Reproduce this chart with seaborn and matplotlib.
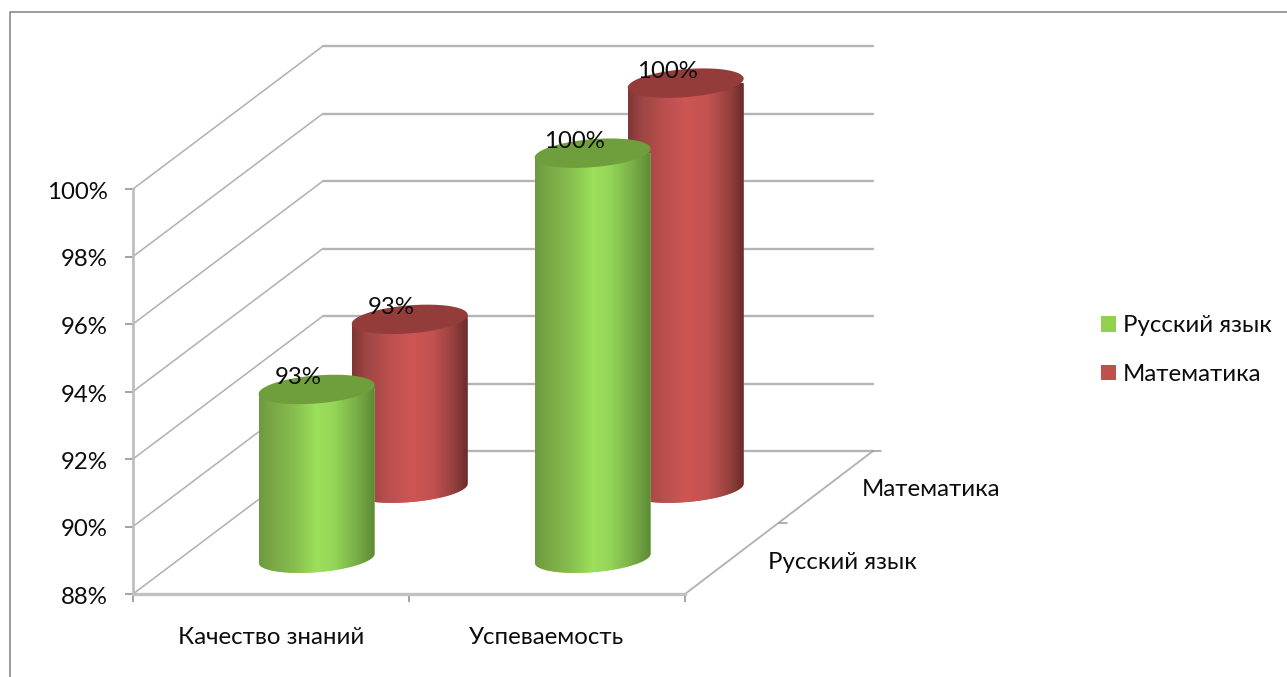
import numpy as np
import matplotlib
matplotlib.use("Agg")
import matplotlib.pyplot as plt
from matplotlib.colors import LinearSegmentedColormap
from matplotlib.lines import Line2D
from matplotlib.patches import Patch, Polygon
from matplotlib.transforms import ScaledTranslation
import seaborn as sns

# Data
categories = ["Качество знаний", "Успеваемость"]
series_names = ["Русский язык", "Математика"]
russian = [93, 100]
maths = [93, 100]
y_ticks = [88, 90, 92, 94, 96, 98, 100]

sns.set_theme(style="white")
plt.rcParams["font.family"] = ["Lato", "Open Sans", "DejaVu Sans"]

W, H = 1287, 677
FONT = 17.3
TEXT = "#0c0c0c"
GRID = "#b4b4b4"

fig = plt.figure(figsize=(W / 100, H / 100), dpi=100, facecolor="white")


def px_axes(x0, y_bottom, width, height):
    return fig.add_axes([x0 / W, 1 - y_bottom / H, width / W, height / H])


# ---------------------------
# Front plane: real axes with the value scale
# ---------------------------
FX, FY, FW, FH = 133, 594, 552, 405
UNIT_Y = FH / 12
ax = px_axes(FX, FY, FW, FH)
ax.set_facecolor("none")
ax.set_xlim(-0.5, 1.5)
ax.set_ylim(88, 100)
sns.despine(ax=ax, top=True, right=True)
ax.spines["left"].set_color("#bcbcbc")
ax.spines["left"].set_linewidth(1.9)
ax.spines["bottom"].set_color("#c2c2c2")
ax.spines["bottom"].set_linewidth(2.4)

ax.set_yticks(y_ticks)
ax.set_yticklabels([f"{v}%" for v in y_ticks], fontsize=FONT, color=TEXT)
ax.tick_params(axis="y", left=True, length=6, width=1.1, color="#8a8a8a", pad=12)
ax.set_xticks([-0.5, 0.5, 1.5])
ax.set_xticklabels([])
ax.tick_params(axis="x", bottom=True, length=6, width=1.1, color="#8a8a8a")
ax.set_xticks([0, 1], labels=categories, minor=True)
ax.tick_params(axis="x", which="minor", bottom=False, length=0, pad=24,
               labelsize=FONT, labelcolor=TEXT)
for lab in ax.get_yticklabels():
    lab.set_transform(lab.get_transform() + ScaledTranslation(0, -1.5 / 100, fig.dpi_scale_trans))

# depth vector of the 3D box in axis units
dep_x = 188 / (FW / 2)
dep_y = 143 / UNIT_Y
wall_x = 190 / (FW / 2)
for v in y_ticks:
    ax.plot([-0.5, -0.5 + wall_x], [v, v + dep_y], color="#b0b0b0", lw=1.1, clip_on=False)
    ax.plot([-0.5 + wall_x, 1.5 + dep_x], [v + dep_y, v + dep_y], color=GRID, lw=1.7, clip_on=False)

# floor side edge and its ticks
ax.plot([1.5, 1.5 + dep_x], [88, 88 + dep_y], color="#b0b0b0", lw=1.3, clip_on=False)
for d in [0.5, 1.0]:
    xt = 1.5 + dep_x * d
    yt = 88 + dep_y * d
    ax.plot([xt, xt + 8 / (FW / 2)], [yt, yt], color="#9a9a9a", lw=1.1, clip_on=False)

fig.text(768 / W, 1 - 562.5 / H, series_names[0], fontsize=FONT, color=TEXT, va="center")
fig.text(862 / W, 1 - 489.5 / H, series_names[1], fontsize=FONT, color=TEXT, va="center")

# ---------------------------
# Cylinders: one barplot per depth row
# ---------------------------
BAR_WIDTH = 0.42
ELL_B = 14 / UNIT_Y
ELL_TILT = 4.5 / UNIT_Y
ROW_FLOOR = 86  # row axes reach lower so the rounded bottom is not cut off
LIFT = 1.5  # px, rows sit slightly above the floor plane

green_map = LinearSegmentedColormap.from_list("green", [
    (0.0, "#6d9a3f"), (0.08, "#76a444"), (0.3, "#87bd4e"), (0.5, "#9ce05b"),
    (0.65, "#94d557"), (0.85, "#78ad47"), (1.0, "#5d8a36")])
red_map = LinearSegmentedColormap.from_list("red", [
    (0.0, "#7f3634"), (0.12, "#9d4644"), (0.3, "#b84f4d"), (0.5, "#cd5654"),
    (0.7, "#c25250"), (0.88, "#93403e"), (1.0, "#6a2b2a")])


def draw_row(values, depth, flat, cap, cmap, layer):
    extra = (88 - ROW_FLOOR) * UNIT_Y
    row = px_axes(FX + 190 * depth, FY - 143 * depth + extra - LIFT, FW, FH + extra)
    row.set_zorder(layer)
    sns.barplot(x=categories, y=values, color=flat, width=BAR_WIDTH, saturation=1, ax=row)
    row.axis("off")
    row.set_xlim(-0.5, 1.5)
    row.set_ylim(ROW_FLOOR, 100)

    t = np.linspace(0, 2 * np.pi, 200)
    for bar, v in zip(row.patches, values):
        c = bar.get_x() + bar.get_width() / 2
        r = bar.get_width() / 2
        lo = np.linspace(np.pi, 2 * np.pi, 80)
        left_top = [(c - r, v - ELL_TILT)]
        bottom = np.column_stack([c + r * np.cos(lo),
                                  88 + ELL_TILT * np.cos(lo) + ELL_B * np.sin(lo)])
        right_top = [(c + r, v + ELL_TILT)]
        side = Polygon(np.vstack([left_top, bottom, right_top]), closed=True,
                       transform=row.transData, fc="none", ec="none")
        row.add_patch(side)
        bar.set_clip_path(side)

        grad = np.linspace(0, 1, 256).reshape(1, -1)
        img = row.imshow(grad, cmap=cmap, aspect="auto", interpolation="bilinear",
                         extent=[c - r, c + r, ROW_FLOOR, v + 1], zorder=3)
        img.set_clip_path(side)

        top = np.column_stack([c + r * np.cos(t),
                               v + ELL_TILT * np.cos(t) + ELL_B * np.sin(t)])
        row.add_patch(Polygon(top, closed=True, fc=cap, ec="none", zorder=4, clip_on=False))

        row.annotate(f"{v}%", (c, v), xytext=(-18 * 0.72, 11.5 * 0.72),
                     textcoords="offset points", ha="center", va="center",
                     fontsize=FONT, color=TEXT, zorder=5, annotation_clip=False)
    row.set_xlim(-0.5, 1.5)
    row.set_ylim(ROW_FLOOR, 100)


draw_row(maths, 0.73, "#c0504d", "#943c3a", red_map, 2)
draw_row(russian, 0.24, "#92d050", "#6f9f3c", green_map, 3)

# ---------------------------
# Legend and chart frame
# ---------------------------
handles = [Patch(fc="#92d050", ec="none"), Patch(fc="#c0504d", ec="none")]
fig.legend(handles, series_names, loc="center left", bbox_to_anchor=(1101 / W, 1 - 350 / H),
           frameon=False, fontsize=FONT, labelcolor=TEXT, handlelength=0.62, handleheight=0.62,
           handletextpad=0.3, labelspacing=1.15, borderpad=0, borderaxespad=0)

fig.add_artist(Line2D([10 / W, 10 / W, 1], [0, 1 - 12 / H, 1 - 12 / H], color="#8a8a8a", lw=1.2,
                      transform=fig.transFigure))

plt.savefig("out.png", dpi=100)
